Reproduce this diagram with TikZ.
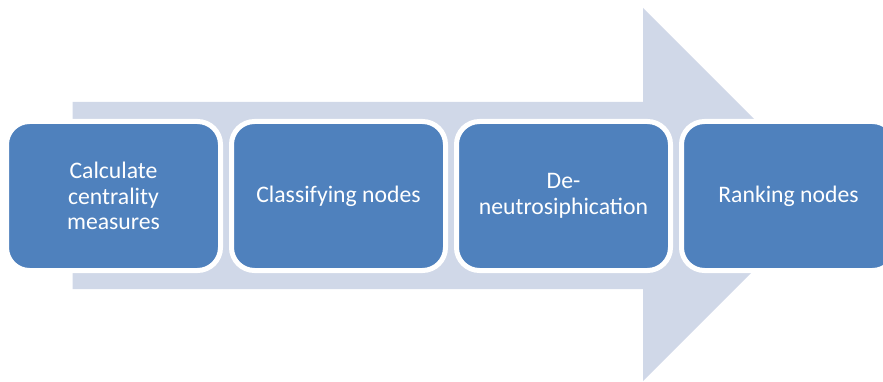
\documentclass[tikz,border=0pt]{standalone}
\usepackage{fontspec}
\setmainfont{Carlito}
\usetikzlibrary{positioning}
\definecolor{stepblue}{HTML}{4F81BD}
\definecolor{arrowgray}{HTML}{D0D8E8}
\tikzset{
x=1pt, y=-1pt, % one unit is one pixel of the reference
node distance=11pt, % gap between two neighbouring boxes
stepbox/.style={draw=white, line width=5pt, fill=stepblue, rounded corners=23pt,
  minimum width=214pt, minimum height=149pt, outer sep=0pt, inner sep=0pt,
  text=white, align=center, font=\fontsize{23.7}{25.7}\selectfont}, % sets the look of each step
bigarrow/.style={fill=arrowgray}, % the wide arrow behind the steps
}
\begin{document}
\begin{tikzpicture}
    \clip (0,0) rectangle (883,382);
    \fill[bigarrow] (72.7,102) -- (643,102) -- (643,8) -- (829.5,194.5)
          -- (643,381) -- (643,289) -- (72.7,289) -- cycle;

    \node[stepbox] (CALC) at (113.5,196) {Calculate\\centrality\\measures};
    \node[stepbox, right=of CALC] (CLASS) {Classifying nodes};
    \node[stepbox, right=of CLASS] (DENEUT) {De-\\neutrosiphication};
    \node[stepbox, right=of DENEUT] (RANK) {Ranking nodes};
\end{tikzpicture}
\end{document}
